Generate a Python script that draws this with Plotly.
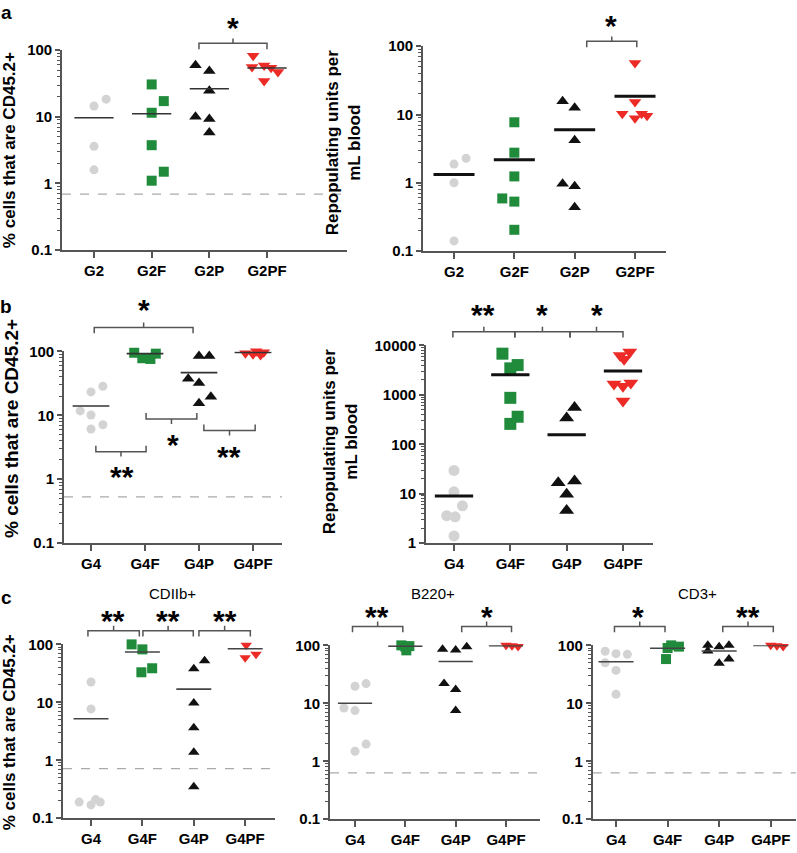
import numpy as np
import plotly.graph_objects as go

W, H = 797, 853
FONT = "Liberation Sans, Arial, sans-serif"
AX = "#555555"

GROUPS_A = ["G2", "G2F", "G2P", "G2PF"]
GROUPS_BC = ["G4", "G4F", "G4P", "G4PF"]

PCT_TICKS = [0.1, 1, 10, 100]
PCT_TICKTEXT = ["0.1", "1", "10", "100"]
RU_B_TICKS = [1, 10, 100, 1000, 10000]
RU_B_TICKTEXT = ["1", "10", "100", "1000", "10000"]

# ---------------- values ----------------
# a (left): % cells that are CD45.2+
A1_VALUES = [[18.4, 14.5, 3.6, 1.6],
             [30.6, 17.2, 11.5, 3.75, 1.5, 1.1],
             [59.6, 48.5, 24.7, 10, 9.3, 5.8],
             [82.5, 55.7, 58.8, 54.3, 47, 34.6]]
A1_MEANS = [9.7, 11.1, 26.4, 54]
A1_LIMIT = 0.69

# a (right): repopulating units per mL blood
A2_VALUES = [[1.88, 2.29, 1.0, 0.141],
             [7.7, 2.76, 1.24, 0.59, 0.53, 0.205],
             [15.7, 12.6, 4.2, 0.97, 0.89, 0.44],
             [57, 15.2, 10.3, 10.3, 8.8, 9.6]]
A2_MEANS = [1.32, 2.17, 5.97, 18.5]

# b (left): % cells that are CD45.2+
B1_VALUES = [[28.4, 23.2, 11.7, 10.1, 7.1, 6.1],
             [112, 108, 95, 92, 78, 76],
             [84.7, 84.7, 37.2, 31.9, 19.5, 15.4],
             [104, 102, 100, 97, 93, 90, 88]]
B1_MEANS = [14, 92, 46.5, 96]
B1_LIMIT = 0.53

# b (right): repopulating units per mL blood
B2_VALUES = [[29.6, 10.9, 5.7, 3.6, 3.4, 1.4],
             [6820, 4010, 3440, 871, 361, 259],
             [553, 340, 16.7, 18, 9.8, 4.6],
             [7400, 6300, 5270, 1655, 1490, 1730, 750]]
B2_MEANS = [9.0, 2540, 156, 3050]

# c: CDIIb+, B220+, CD3+
C1_VALUES = [[22.4, 7.7, 0.19, 0.17, 0.21, 0.19],
             [100, 110, 82, 104, 33, 38.7],
             [52, 37.8, 9.7, 3.65, 1.38, 0.35],
             [104, 110, 97, 106, 59, 67.7]]
C1_MEANS = [5.2, 74, 16.9, 84]
C1_LIMIT = 0.72

C2_VALUES = [[21.9, 19.7, 8.3, 7.5, 1.98, 1.49],
             [108, 105, 100, 97, 95, 82],
             [85.5, 83, 94.6, 21.9, 17.3, 7.5],
             [104, 102, 100, 98, 96]]
C2_MEANS = [10, 97, 52.8, 99]
C2_LIMIT = 0.63

C3_VALUES = [[79, 72, 70, 50, 37, 14.3],
             [105, 103, 100, 95, 90, 58],
             [100, 94.6, 100, 80, 49, 58],
             [104, 102, 100, 98, 96]]
C3_MEANS = [52, 89, 80, 100]
C3_LIMIT = 0.63

# ---------------- scatter jitter (category units, layout only) ----------------
A1_JITTER = [[0.21, 0, 0, 0], [0, 0.21, 0, 0, 0.21, 0], [-0.24, 0, 0, -0.24, 0, 0],
             [-0.24, -0.26, -0.05, 0.07, 0.19, -0.05]]
A2_JITTER = [[0, 0.2, 0, 0], [0, 0, 0, -0.2, 0, 0], [-0.2, 0, 0, -0.2, 0, 0],
             [0, 0, -0.21, 0.11, 0, 0.2]]
B1_JITTER = [[0.22, 0, -0.2, 0, 0.22, 0], [-0.1, 0.1, -0.2, 0.2, -0.05, 0.1],
             [0, 0.19, -0.2, 0, 0.22, 0], [-0.22, -0.08, 0.06, 0.2, -0.14, 0.0, 0.14]]
B2_JITTER = [[0, 0, 0.15, -0.13, 0.02, 0], [-0.14, 0.13, 0, 0, 0.13, 0],
             [0.14, 0, -0.15, 0.14, 0, 0], [0.12, -0.05, 0.02, -0.16, 0, 0.14, 0]]
C1_JITTER = [[0, 0, -0.23, 0, 0.09, 0.18], [-0.21, -0.08, 0, 0.19, -0.02, 0.19],
             [0.21, 0, 0, 0, 0, 0], [-0.21, -0.08, 0.02, 0.21, 0, 0.21]]
C2_JITTER = [[0.22, 0, -0.22, 0, 0.22, 0], [-0.22, 0.22, -0.08, 0.08, 0.0, 0.02],
             [-0.26, 0, 0.22, -0.23, 0, 0], [-0.24, -0.12, 0, 0.12, 0.24]]
C3_JITTER = [[-0.21, 0, 0.22, -0.21, 0, 0], [-0.22, -0.07, 0.07, 0.22, 0, -0.03],
             [-0.22, 0, 0.19, -0.22, 0, 0.19], [-0.24, -0.12, 0, 0.12, 0.24]]

# ---------------- styles ----------------
SYMBOLS = ["circle", "square", "triangle-up", "triangle-down"]
COLORS = ["#d3d3d3", "#1f8b3b", "#111111", "#ec2a26"]

PANELS = [
    dict(groups=GROUPS_A, values=A1_VALUES, means=A1_MEANS, limit=A1_LIMIT, jitter=A1_JITTER,
         box=(62, 347, 42, 246), xr=(-0.555, 4.387), yr=(-1, 2), ticks=(PCT_TICKS, PCT_TICKTEXT),
         sizes=(9, 10, 11, 11), mw=1.6, mc="#333333", tf=15),
    dict(groups=GROUPS_A, values=A2_VALUES, means=A2_MEANS, limit=None, jitter=A2_JITTER,
         box=(423, 666, 38, 247), xr=(-0.514, 3.514), yr=(-1, 2), ticks=(PCT_TICKS, PCT_TICKTEXT),
         sizes=(9, 10, 11, 11), mw=3, mc="#111111", tf=15),
    dict(groups=GROUPS_BC, values=B1_VALUES, means=B1_MEANS, limit=B1_LIMIT, jitter=B1_JITTER,
         box=(64, 282, 349.3, 545), xr=(-0.5, 3.537), yr=(-1, 2), ticks=(PCT_TICKS, PCT_TICKTEXT),
         sizes=(9, 10, 11, 11), mw=1.6, mc="#333333", tf=15),
    dict(groups=GROUPS_BC, values=B2_VALUES, means=B2_MEANS, limit=None, jitter=B2_JITTER,
         box=(426, 653, 343.3, 545), xr=(-0.497, 3.533), yr=(0, 4), ticks=(RU_B_TICKS, RU_B_TICKTEXT),
         sizes=(11, 12, 13, 13), mw=3, mc="#111111", tf=15),
    dict(groups=GROUPS_BC, values=C1_VALUES, means=C1_MEANS, limit=C1_LIMIT, jitter=C1_JITTER,
         box=(63, 275, 648.3, 825.7), xr=(-0.545, 3.58), yr=(-1, 2), ticks=(PCT_TICKS, PCT_TICKTEXT),
         sizes=(9, 10, 10, 10), mw=1.6, mc="#444444", tf=15),
    dict(groups=GROUPS_BC, values=C2_VALUES, means=C2_MEANS, limit=C2_LIMIT, jitter=C2_JITTER,
         box=(330, 540, 649.3, 826.7), xr=(-0.497, 3.676), yr=(-1, 2), ticks=(PCT_TICKS, PCT_TICKTEXT),
         sizes=(9, 10, 10, 10), mw=1.6, mc="#444444", tf=15),
    dict(groups=GROUPS_BC, values=C3_VALUES, means=C3_MEANS, limit=C3_LIMIT, jitter=C3_JITTER,
         box=(592.7, 796, 649.3, 826.7), xr=(-0.452, 3.49), yr=(-1, 2), ticks=(PCT_TICKS, PCT_TICKTEXT),
         sizes=(9, 10, 10, 10), mw=1.6, mc="#444444", tf=15),
]

# significance brackets: (panel, x0, x1, level (log10 of value), legs direction, label, label x, label level)
BRACKETS = [
    (0, 1.82, 3.0, 2.103, "down", "*", 2.41, 2.40),
    (1, 2.2, 3.03, 2.072, "down", "*", 2.6, 2.36),
    (2, 0.06, 1.89, 2.373, "down", "*", 0.98, 2.71),
    (2, 0.09, 1.02, 0.43, "up", "**", 0.57, 0.10),
    (2, 1.02, 1.96, 0.942, "up", "*", 1.52, 0.61),
    (2, 2.09, 3.04, 0.762, "up", "**", 2.56, 0.41),
    (3, -0.02, 1.08, 4.278, "down", "**", 0.51, 4.70),
    (3, 1.08, 2.06, 4.278, "down", "*", 1.56, 4.70),
    (3, 2.06, 3.0, 4.278, "down", "*", 2.54, 4.70),
    (4, -0.06, 0.94, 2.237, "down", "**", 0.43, 2.48),
    (4, 1.01, 1.99, 2.237, "down", "**", 1.5, 2.48),
    (4, 2.1, 3.1, 2.237, "down", "**", 2.61, 2.48),
    (5, -0.05, 0.95, 2.327, "down", "**", 0.44, 2.56),
    (5, 2.12, 3.11, 2.327, "down", "*", 2.62, 2.56),
    (6, -0.03, 0.95, 2.327, "down", "*", 0.43, 2.56),
    (6, 2.07, 3.05, 2.327, "down", "**", 2.55, 2.56),
]


def domains(p):
    x0, x1, y0, y1 = p["box"]
    return (x0 / W, x1 / W), (1 - y1 / H, 1 - y0 / H)


def to_paper(p, xc, ylog):
    xd, yd = domains(p)
    fx = (xc - p["xr"][0]) / (p["xr"][1] - p["xr"][0])
    fy = (ylog - p["yr"][0]) / (p["yr"][1] - p["yr"][0])
    return xd[0] + fx * (xd[1] - xd[0]), yd[0] + fy * (yd[1] - yd[0])


fig = go.Figure()
layout = dict(width=W, height=H, margin=dict(l=0, r=0, t=0, b=0), paper_bgcolor="white",
              plot_bgcolor="white", showlegend=False, font=dict(family=FONT, color="black"))
shapes, annotations = [], []

for i, p in enumerate(PANELS):
    n = "" if i == 0 else str(i + 1)
    xd, yd = domains(p)
    lo, hi = p["yr"]
    minor_vals = [m * 10.0 ** e for e in range(lo, hi) for m in range(2, 10)]
    layout["xaxis" + n] = dict(domain=xd, range=list(p["xr"]), anchor="y" + n, tickmode="array",
                               tickvals=[0, 1, 2, 3], ticktext=p["groups"], showline=True,
                               linecolor=AX, linewidth=1.6, ticks="outside", ticklen=6, tickwidth=1.6,
                               tickcolor=AX, showgrid=False, zeroline=False, ticklabeloverflow="allow",
                               tickfont=dict(family=FONT, size=p["tf"], color="black", weight="bold"))
    layout["yaxis" + n] = dict(domain=yd, type="log", range=[lo, hi], anchor="x" + n, tickmode="array",
                               tickvals=p["ticks"][0], ticktext=p["ticks"][1], showline=True,
                               linecolor=AX, linewidth=1.6, ticks="outside", ticklen=5, tickwidth=1.6,
                               tickcolor=AX, showgrid=False, zeroline=False, ticklabeloverflow="allow",
                               tickfont=dict(family=FONT, size=p["tf"], color="black", weight="bold"),
                               minor=dict(tickmode="array", tickvals=minor_vals, ticks="outside",
                                          ticklen=3, tickwidth=1, tickcolor=AX, showgrid=False))
    if p["limit"] is not None:
        fig.add_trace(go.Scatter(x=list(p["xr"]), y=[p["limit"], p["limit"]], mode="lines",
                                 line=dict(color="#aaaaaa", width=1.3, dash="dash"),
                                 xaxis="x" + n, yaxis="y" + n, hoverinfo="skip"))
    for g in range(4):
        vals = p["values"][g]
        xs = [g + j for j in p["jitter"][g]]
        fig.add_trace(go.Scatter(x=xs, y=vals, mode="markers", cliponaxis=False,
                                 marker=dict(symbol=SYMBOLS[g], size=p["sizes"][g], color=COLORS[g],
                                             line=dict(width=0)),
                                 xaxis="x" + n, yaxis="y" + n, name=p["groups"][g]))
    for g in range(4):
        hw = 0.34
        fig.add_trace(go.Scatter(x=[g - hw, g + hw], y=[p["means"][g]] * 2, mode="lines",
                                 line=dict(color=p["mc"], width=p["mw"]),
                                 xaxis="x" + n, yaxis="y" + n, hoverinfo="skip"))

LEG = 6 / H
TICK = 5 / H
STAR = 30
STAR_SHIFT = 4 / H
for (pi, x0, x1, lev, legs, label, lx, ly) in BRACKETS:
    p = PANELS[pi]
    ax0, yy = to_paper(p, x0, lev)
    ax1, _ = to_paper(p, x1, lev)
    axm = (ax0 + ax1) / 2
    s = -1 if legs == "down" else 1
    path = (f"M {ax0},{yy + s * LEG} L {ax0},{yy} L {ax1},{yy} L {ax1},{yy + s * LEG} "
            f"M {axm},{yy} L {axm},{yy - s * TICK}")
    shapes.append(dict(type="path", xref="paper", yref="paper", path=path,
                       line=dict(color=AX, width=1.5)))
    tx, ty = to_paper(p, lx, ly)
    annotations.append(dict(x=tx, y=ty - STAR_SHIFT, xref="paper", yref="paper", text=label,
                            showarrow=False, xanchor="center", yanchor="middle",
                            font=dict(size=STAR, family=FONT, color="black", weight="bold")))

YT1 = "% cells that are CD45.2+"
YT2 = "Repopulating units per<br>mL blood"
for (txt, px, py, sz) in [(YT1, 9, 144, 17), (YT2, 343, 137, 17), (YT1, 11.5, 428, 19),
                          (YT2, 340, 442, 17), (YT1, 9, 738, 17)]:
    annotations.append(dict(x=px / W, y=1 - py / H, xref="paper", yref="paper", text=txt,
                            textangle=-90, showarrow=False, xanchor="center", yanchor="middle",
                            font=dict(size=sz, family=FONT, color="black", weight="bold")))

for (txt, px, py) in [("a", 6, 4), ("b", 6, 304), ("c", 6, 600)]:
    annotations.append(dict(x=px / W, y=1 - py / H, xref="paper", yref="paper", text=txt,
                            showarrow=False, xanchor="center", yanchor="middle",
                            font=dict(size=19, family=FONT, color="black", weight="bold")))

for (txt, px, py) in [("CDIIb+", 172, 596), ("B220+", 433, 596), ("CD3+", 697, 596)]:
    annotations.append(dict(x=px / W, y=1 - py / H, xref="paper", yref="paper", text=txt,
                            showarrow=False, xanchor="center", yanchor="middle",
                            font=dict(size=15, family=FONT, color="black")))

layout["shapes"] = shapes
layout["annotations"] = annotations
fig.update_layout(**layout)
fig.write_html("out.html", config={"displayModeBar": False},
               post_script="document.body.style.margin='0';document.body.style.padding='0';")
